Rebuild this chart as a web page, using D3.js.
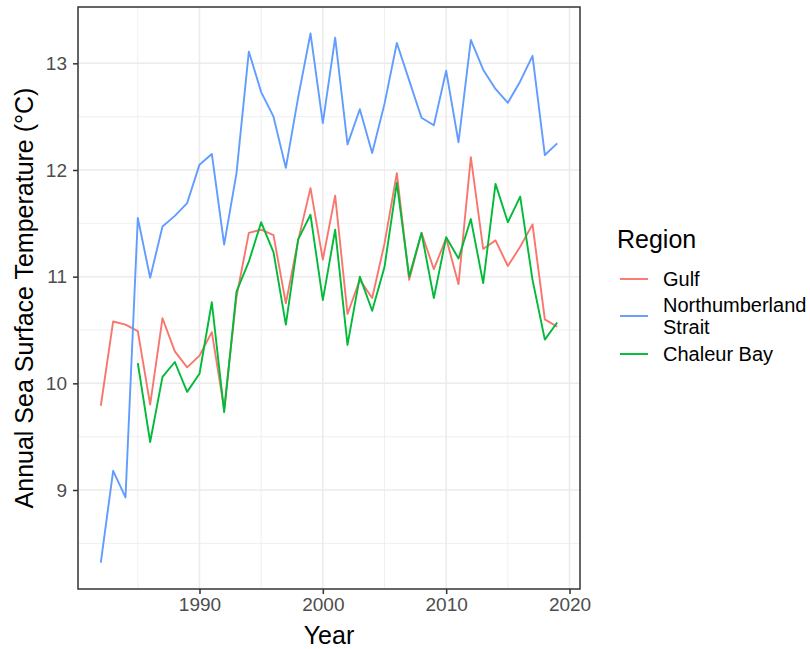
<!DOCTYPE html>
<html>
<head>
<meta charset="utf-8">
<script src="https://cdn.jsdelivr.net/npm/d3@7"></script>
<style>
  body { margin: 0; background: #fff; }
  text { font-family: "Liberation Sans", Arial, sans-serif; }
</style>
</head>
<body>
<div id="chart"></div>
<script>
// annual values
var years = d3.range(1982, 2020);
var gulf = [9.79, 10.58, 10.55, 10.49, 9.80, 10.61, 10.30, 10.15, 10.26, 10.48,
            9.76, 10.81, 11.41, 11.44, 11.39, 10.75, 11.34, 11.83, 11.16, 11.76,
            10.65, 10.97, 10.80, 11.31, 11.97, 10.97, 11.41, 11.07, 11.36, 10.93,
            12.12, 11.26, 11.34, 11.10, 11.28, 11.49, 10.60, 10.53];
var northumberland = [8.32, 9.18, 8.93, 11.55, 10.99, 11.47, 11.57, 11.69, 12.05, 12.15,
            11.30, 11.97, 13.11, 12.73, 12.50, 12.02, 12.68, 13.28, 12.44, 13.24,
            12.24, 12.57, 12.16, 12.62, 13.19, 12.84, 12.49, 12.42, 12.93, 12.26,
            13.22, 12.94, 12.76, 12.63, 12.83, 13.07, 12.14, 12.25];
// Chaleur Bay series starts in 1985
var chaleur = [null, null, null, 10.19, 9.45, 10.06, 10.20, 9.92, 10.09, 10.76,
            9.73, 10.86, 11.14, 11.51, 11.23, 10.55, 11.35, 11.58, 10.78, 11.44,
            10.36, 11.00, 10.68, 11.09, 11.88, 11.00, 11.41, 10.80, 11.37, 11.17,
            11.54, 10.94, 11.87, 11.51, 11.75, 10.97, 10.41, 10.57];
var regionNames = ["Gulf", "Northumberland Strait", "Chaleur Bay"];
var regionColors = ["#F8766D", "#619CFF", "#00BA38"];
var xTicks = [1990, 2000, 2010, 2020];
var yTicks = [9, 10, 11, 12, 13];

var width = 810, height = 649;
var panel = {left: 78, right: 580, top: 7, bottom: 589};

var series = [gulf, northumberland, chaleur];

// ggplot style 5% expansion
var allY = [].concat(gulf, northumberland, chaleur).filter(function(d) { return d != null; });
var yMin = d3.min(allY), yMax = d3.max(allY);
var yPad = (yMax - yMin) * 0.05;
var xPad = (d3.max(years) - d3.min(years)) * 0.05;

var X = d3.scaleLinear()
    .domain([d3.min(years) - xPad, d3.max(years) + xPad])
    .range([panel.left, panel.right]);
var Y = d3.scaleLinear()
    .domain([yMin - yPad, yMax + yPad])
    .range([panel.bottom, panel.top]);

var svg = d3.select("#chart").append("svg")
    .attr("width", width)
    .attr("height", height);

svg.append("rect")
    .attr("width", width).attr("height", height)
    .attr("fill", "#fff");

var grid = svg.append("g");
var xMinor = [1985, 1995, 2005, 2015];
var yMinor = [8.5, 9.5, 10.5, 11.5, 12.5];

grid.selectAll(".xminor").data(xMinor).enter().append("line")
    .attr("x1", function(d) { return X(d); }).attr("x2", function(d) { return X(d); })
    .attr("y1", panel.top).attr("y2", panel.bottom)
    .attr("stroke", "#EBEBEB").attr("stroke-width", 0.8);
grid.selectAll(".yminor").data(yMinor).enter().append("line")
    .attr("y1", function(d) { return Y(d); }).attr("y2", function(d) { return Y(d); })
    .attr("x1", panel.left).attr("x2", panel.right)
    .attr("stroke", "#EBEBEB").attr("stroke-width", 0.8);
grid.selectAll(".xmajor").data(xTicks).enter().append("line")
    .attr("x1", function(d) { return X(d); }).attr("x2", function(d) { return X(d); })
    .attr("y1", panel.top).attr("y2", panel.bottom)
    .attr("stroke", "#EBEBEB").attr("stroke-width", 1.5);
grid.selectAll(".ymajor").data(yTicks).enter().append("line")
    .attr("y1", function(d) { return Y(d); }).attr("y2", function(d) { return Y(d); })
    .attr("x1", panel.left).attr("x2", panel.right)
    .attr("stroke", "#EBEBEB").attr("stroke-width", 1.5);

var line = d3.line()
    .defined(function(d) { return d[1] != null; })
    .x(function(d) { return X(d[0]); })
    .y(function(d) { return Y(d[1]); });

series.forEach(function(vals, i) {
    svg.append("path")
        .datum(years.map(function(yr, j) { return [yr, vals[j]]; }))
        .attr("d", line)
        .attr("fill", "none")
        .attr("stroke", regionColors[i])
        .attr("stroke-width", 1.9)
        .attr("stroke-linejoin", "round");
});

// panel border
svg.append("rect")
    .attr("x", panel.left).attr("y", panel.top)
    .attr("width", panel.right - panel.left)
    .attr("height", panel.bottom - panel.top)
    .attr("fill", "none")
    .attr("stroke", "#333333")
    .attr("stroke-width", 1.5);

// axes
var xAxis = d3.axisBottom(X).tickValues(xTicks).tickSize(5).tickPadding(4).tickFormat(d3.format("d"));
var yAxis = d3.axisLeft(Y).tickValues(yTicks).tickSize(5).tickPadding(6).tickFormat(d3.format("d"));

var gx = svg.append("g")
    .attr("transform", "translate(0," + panel.bottom + ")")
    .call(xAxis);
var gy = svg.append("g")
    .attr("transform", "translate(" + panel.left + ",0)")
    .call(yAxis);

[gx, gy].forEach(function(g) {
    g.select(".domain").remove();
    g.selectAll(".tick line").attr("stroke", "#333333").attr("stroke-width", 1.5);
    g.selectAll(".tick text")
        .attr("fill", "#4D4D4D")
        .style("font-size", "19px")
        .style("font-family", "'Liberation Sans', Arial, sans-serif");
});

svg.append("text")
    .attr("x", (panel.left + panel.right) / 2)
    .attr("y", 644)
    .attr("text-anchor", "middle")
    .style("font-size", "25px")
    .text("Year");

svg.append("text")
    .attr("transform", "translate(33," + (panel.top + panel.bottom) / 2 + ") rotate(-90)")
    .attr("text-anchor", "middle")
    .style("font-size", "25px")
    .text("Annual Sea Surface Temperature (°C)");

// legend
var legend = svg.append("g");
legend.append("text")
    .attr("x", 617).attr("y", 248)
    .style("font-size", "25px")
    .text("Region");

var keyY = [279, 316, 354];
var labelLines = [["Gulf"], ["Northumberland", "Strait"], ["Chaleur Bay"]];

regionNames.forEach(function(name, i) {
    legend.append("line")
        .attr("x1", 620).attr("x2", 648)
        .attr("y1", keyY[i]).attr("y2", keyY[i])
        .attr("stroke", regionColors[i])
        .attr("stroke-width", 1.9);
    var t = legend.append("text")
        .attr("x", 663)
        .attr("y", keyY[i] + 7 - (labelLines[i].length - 1) * 11)
        .style("font-size", "20px");
    labelLines[i].forEach(function(s, k) {
        t.append("tspan").attr("x", 663).attr("dy", k === 0 ? 0 : 22).text(s);
    });
});
</script>
</body>
</html>
